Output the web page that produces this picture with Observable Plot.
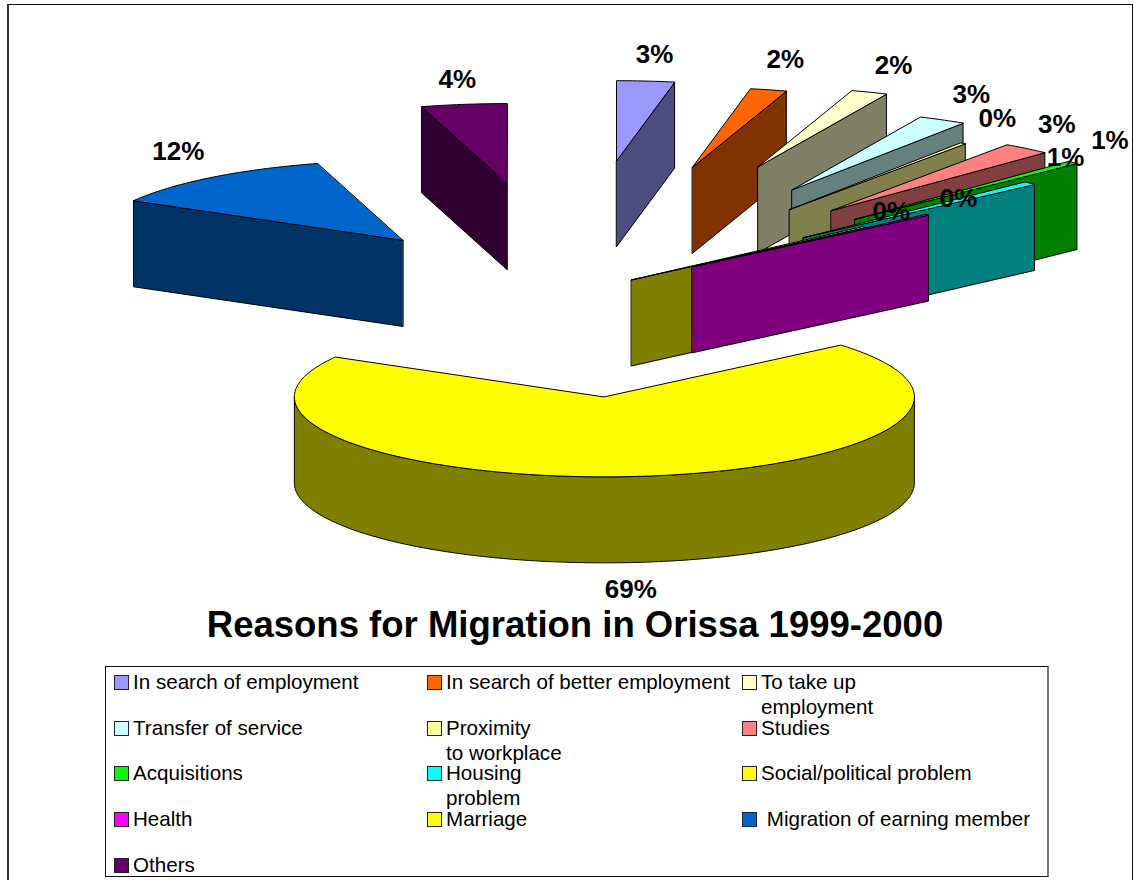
<!DOCTYPE html>
<html>
<head>
<meta charset="utf-8">
<script src="https://cdn.jsdelivr.net/npm/d3@7"></script>
<script src="https://cdn.jsdelivr.net/npm/@observablehq/plot@0.6"></script>
<style>
  html, body { margin: 0; padding: 0; background: #fff; overflow: hidden; }
  #page { position: relative; width: 1135px; height: 880px; overflow: hidden; font-family: "Liberation Sans", Arial, sans-serif; color: #000; }
  #frame { position: absolute; left: 7px; top: 4px; width: 1126px; height: 900px; border: 1px solid #111; border-left: 2px solid #333; box-sizing: border-box; }
  #chart { position: absolute; left: 0; top: 0; }
  #title { position: absolute; left: 0; width: 1150px; top: 604px; text-align: center; font-weight: bold; font-size: 36.5px; line-height: 42px; white-space: nowrap; }
  #legend { position: absolute; left: 105px; top: 666px; width: 944px; height: 211px; box-sizing: border-box; border: 1px solid #111; border-right: 2px solid #777; background: #fff; }
  .entry { position: absolute; font-size: 20.6px; line-height: 25px; white-space: pre; }
  .swatch { position: absolute; width: 13px; height: 13px; border: 1px solid #222; box-sizing: content-box; }
</style>
</head>
<body>
<div id="page">
  <div id="frame"></div>
  <div id="chart"></div>
  <div id="title"></div>
  <div id="legend"></div>
</div>
<script>
const chartTitle = "Reasons for Migration in Orissa 1999-2000";
const reasons = [
  "In search of employment", "In search of better employment", "To take up\nemployment",
  "Transfer of service", "Proximity\nto workplace", "Studies",
  "Acquisitions", "Housing\nproblem", "Social/political problem",
  "Health", "Marriage", " Migration of earning member",
  "Others"
];
// Share of migrants per reason, in percent
const shares = [3.0, 1.9, 1.9, 2.5, 0.3, 2.5, 0.6, 0.7, 0.2, 0.2, 69.45, 12.3, 4.45];
const topColors = [
  "#9999ff", "#ff6600", "#ffffcc",
  "#ccffff", "#ffff99", "#ff8080",
  "#00ff00", "#00ffff", "#ffff00",
  "#ff00ff", "#ffff00", "#0066cc",
  "#660066"
];
// How far each slice is pulled out of the pie, in pie radii
const explosion = [1.68, 1.64, 1.71, 1.495, 1.28, 1.35, 1.32, 1.04, 0.275, 0.53, 1.285, 0.86, 1.40];
// Hand adjustments of the percent labels, in pixels, so crowded ones stay legible
const labelNudgeX = [-4, -4, -1, 0, 3, -3, 2, 0, -9, -5, -15, 0, 9];
const labelNudgeY = [-1, -4, -1, 0, 1, 2, 4, 0, 10, 10, 2, 0, 1];

// The pie lies in unit coordinates; the scales below supply the tilt.
const W = 1135, H = 606;
const centerPx = [567, 294], radiusPx = 310, tiltPx = 80;
const depth = 86 / tiltPx;
const rad = d => d * Math.PI / 180;
const at = deg => [Math.sin(rad(deg)), Math.cos(rad(deg))];

let running = 0;
const slices = shares.map((share, i) => {
  const start = running * 3.6;
  running += share;
  const end = running * 3.6;
  const mid = (start + end) / 2;
  const [ux, uy] = at(mid);
  return {
    i, share, start, end, mid,
    apex: [explosion[i] * ux, explosion[i] * uy],
    top: topColors[i],
    side: (c => d3.rgb(c.r / 2, c.g / 2, c.b / 2).formatHex())(d3.rgb(topColors[i]))
  };
});

const arcSteps = (a, b) => {
  const n = Math.max(2, Math.ceil(Math.abs(b - a)));
  return d3.range(n + 1).map(k => a + (b - a) * k / n);
};
const rim = (s, deg, drop = 0) => {
  const [x, y] = at(deg);
  return [s.apex[0] + x, s.apex[1] + y - drop];
};

// Painter's order: the back fan first, the large front slice last
const faces = [];
for (const s of slices) {
  const apexLow = [s.apex[0], s.apex[1] - depth];
  if (s.end <= 90) {
    // right-hand fan shows the closing radial wall
    faces.push({ fill: s.side, pts: [s.apex, rim(s, s.end), rim(s, s.end, depth), apexLow] });
  } else if (s.start >= 270) {
    // left-hand fan shows the opening radial wall
    faces.push({ fill: s.side, pts: [s.apex, rim(s, s.start), rim(s, s.start, depth), apexLow] });
  } else {
    // a slice that wraps the front shows its curved outer wall
    const a = Math.max(s.start, 90), b = Math.min(s.end, 270);
    faces.push({
      fill: s.side,
      pts: [...arcSteps(a, b).map(d => rim(s, d)), ...arcSteps(b, a).map(d => rim(s, d, depth))]
    });
  }
  faces.push({ fill: s.top, pts: [s.apex, ...arcSteps(s.start, s.end).map(d => rim(s, d))] });
}

const labels = slices.map(s => {
  const [ux, uy] = at(s.mid);
  const front = uy < 0;
  return {
    text: Math.round(s.share) + "%",
    x: s.apex[0] + ux + 0.135 * Math.sign(ux) * Math.sqrt(Math.abs(ux)) + labelNudgeX[s.i] / radiusPx,
    y: s.apex[1] + uy + (front ? -depth - 0.32 : 0.32) - labelNudgeY[s.i] / tiltPx
  };
});

const chart = Plot.plot({
  width: W, height: H,
  marginTop: 0, marginRight: 0, marginBottom: 0, marginLeft: 0,
  x: { domain: [-centerPx[0] / radiusPx, (W - centerPx[0]) / radiusPx], range: [0, W], axis: null },
  y: { domain: [centerPx[1] / tiltPx, (centerPx[1] - H) / tiltPx], range: [0, H], axis: null },
  style: { background: "transparent", overflow: "visible" },
  marks: [
    ...faces.map(f => Plot.line(f.pts, {
      x: d => d[0], y: d => d[1], fill: f.fill,
      stroke: "#000", strokeWidth: 1, strokeLinejoin: "miter", curve: "linear-closed"
    })),
    Plot.text(labels, {
      x: "x", y: "y", text: "text",
      fontFamily: "Liberation Sans, Arial, sans-serif", fontWeight: "bold", fontSize: 26,
      fill: "#000", textAnchor: "middle", lineAnchor: "middle"
    })
  ]
});
document.getElementById("chart").appendChild(chart);
document.getElementById("title").textContent = chartTitle;

// Legend: three columns filled row by row
const legend = document.getElementById("legend");
const columnLeft = [8, 321, 636], rowTop = [2, 47.5, 93, 139, 184.5];
reasons.forEach((name, i) => {
  const col = i % 3, row = Math.floor(i / 3);
  const swatch = document.createElement("div");
  swatch.className = "swatch";
  swatch.style.left = columnLeft[col] + "px";
  swatch.style.top = (rowTop[row] + 6) + "px";
  swatch.style.background = topColors[i];
  legend.appendChild(swatch);
  const entry = document.createElement("div");
  entry.className = "entry";
  entry.style.left = (columnLeft[col] + 19) + "px";
  entry.style.top = rowTop[row] + "px";
  entry.textContent = name;
  legend.appendChild(entry);
});
</script>
</body>
</html>
